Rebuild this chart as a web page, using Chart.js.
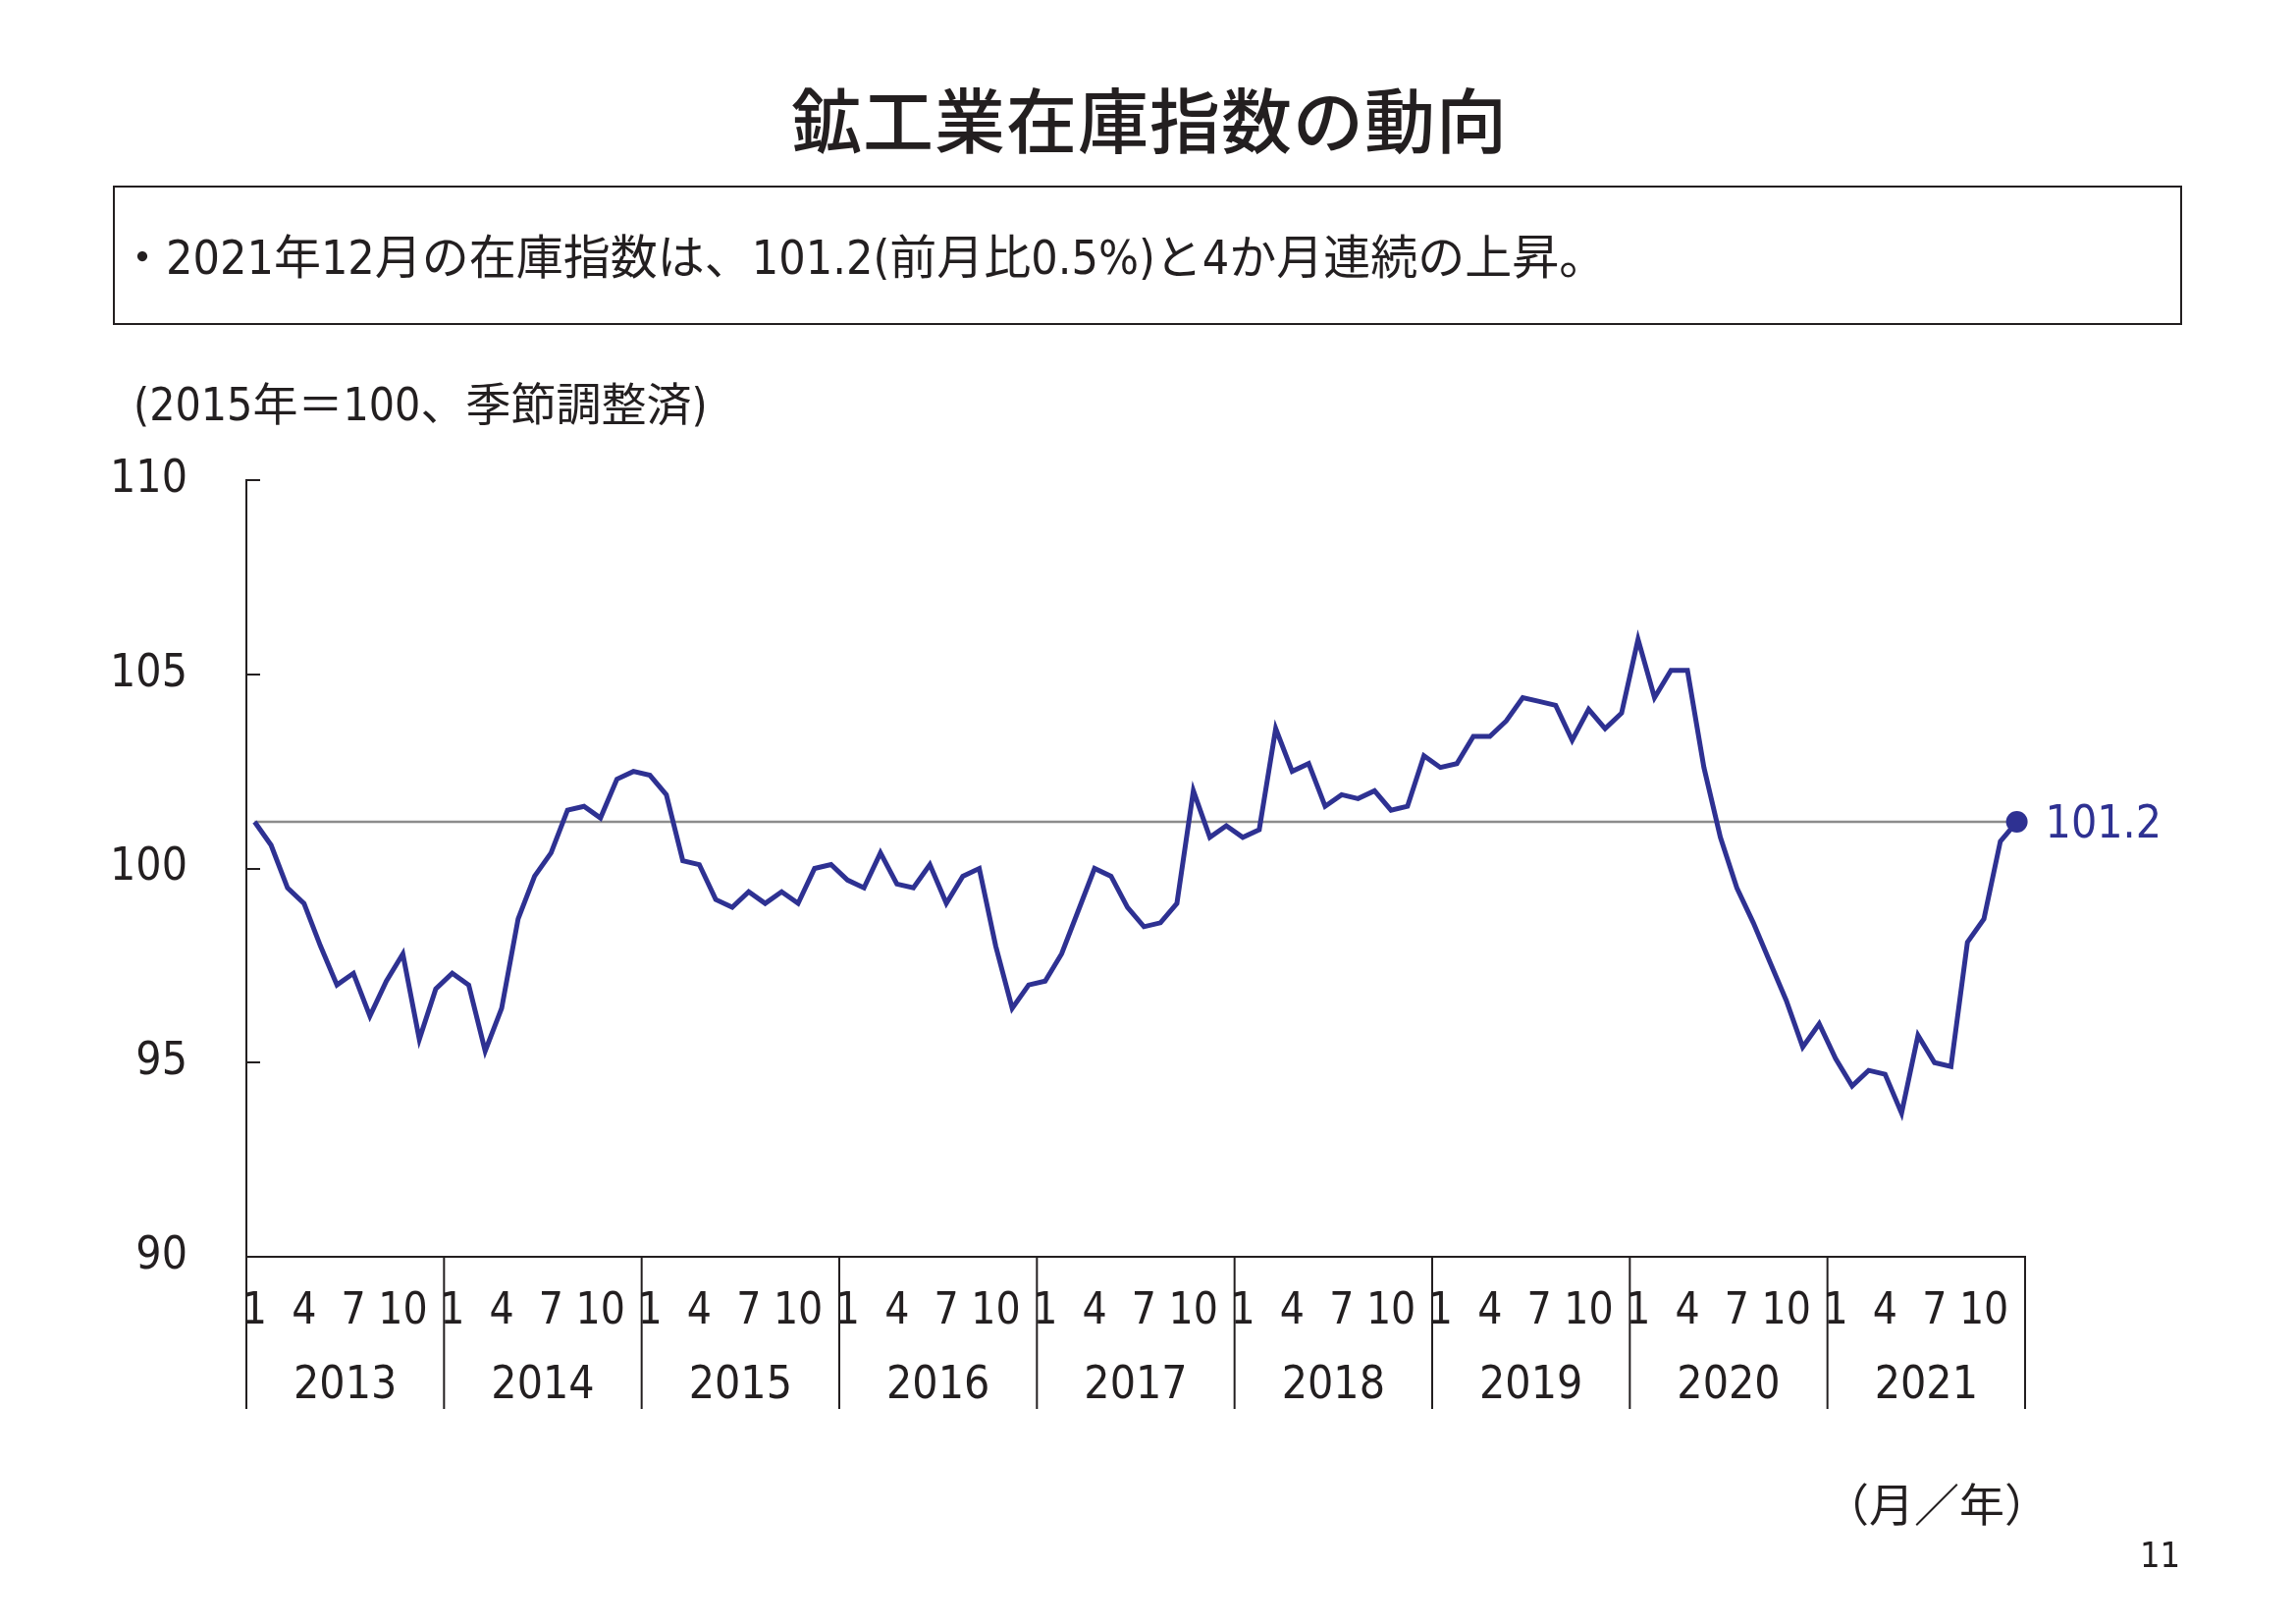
<!DOCTYPE html>
<html lang="ja">
<head>
<meta charset="utf-8">
<script src="https://cdn.jsdelivr.net/npm/chart.js@4.4.1/dist/chart.umd.min.js"></script>
<style>
html,body{margin:0;padding:0;background:#fff;}
#wrap{position:relative;width:2339px;height:1654px;overflow:hidden;background:#fff;}
#c{position:absolute;left:0;top:0;}
.t{position:absolute;white-space:nowrap;color:#231f20;line-height:1;
   font-family:"Liberation Sans Narrow","DejaVu Sans Condensed","Noto Sans CJK JP",sans-serif;}
#title{left:0;width:2342px;top:83px;text-align:center;font-size:72px;font-weight:500;
   font-family:"Noto Sans CJK JP",sans-serif;letter-spacing:1px;}
#box{position:absolute;left:115px;top:189px;width:2108px;height:142px;box-sizing:border-box;border:2.5px solid #231f20;}
#boxtext{left:121px;top:238px;font-size:48px;}
#unit{left:136px;top:389px;font-size:46px;}
#xunit{left:1858px;top:1506px;font-size:46px;font-family:"Noto Sans CJK JP",sans-serif;}
#page{left:2180px;top:1566px;font-size:36px;}
</style>
</head>
<body>
<div id="wrap">
<canvas id="c" width="2339" height="1654"></canvas>
<div class="t" id="title">鉱工業在庫指数の動向</div>
<div id="box"></div>
<div class="t" id="boxtext">・2021年12月の在庫指数は、101.2(前月比0.5%)と4か月連続の上昇。</div>
<div class="t" id="unit">(2015年＝100、季節調整済)</div>
<div class="t" id="xunit">（月／年）</div>
<div class="t" id="page">11</div>
</div>
<script>
const years = ['2013','2014','2015','2016','2017','2018','2019','2020','2021'];
const monthLabels = ['1','','','4','','','7','','','10','',''];
const yTicks = [90, 95, 100, 105, 110];
const inventoryIndex = [
  101.2, 100.6, 99.5, 99.1, 98.0, 97.0, 97.3, 96.2, 97.1, 97.8, 95.6, 96.9,
  97.3, 97.0, 95.3, 96.4, 98.7, 99.8, 100.4, 101.5, 101.6, 101.3, 102.3, 102.5,
  102.4, 101.9, 100.2, 100.1, 99.2, 99.0, 99.4, 99.1, 99.4, 99.1, 100.0, 100.1,
  99.7, 99.5, 100.4, 99.6, 99.5, 100.1, 99.1, 99.8, 100.0, 98.0, 96.4, 97.0,
  97.1, 97.8, 98.9, 100.0, 99.8, 99.0, 98.5, 98.6, 99.1, 102.0, 100.8, 101.1,
  100.8, 101.0, 103.6, 102.5, 102.7, 101.6, 101.9, 101.8, 102.0, 101.5, 101.6, 102.9,
  102.6, 102.7, 103.4, 103.4, 103.8, 104.4, 104.3, 104.2, 103.3, 104.1, 103.6, 104.0,
  105.9, 104.4, 105.1, 105.1, 102.6, 100.8, 99.5, 98.6, 97.6, 96.6, 95.4, 96.0,
  95.1, 94.4, 94.8, 94.7, 93.7, 95.7, 95.0, 94.9, 98.1, 98.7, 100.7, 101.2
];

const categories = [];
years.forEach(y => monthLabels.forEach((m, i) => categories.push(y + '/' + (i + 1))));

const BLUE = '#2e3192';
const AXIS = '#231f20';
const TEXT = '#231f20';
const FONT = '"Liberation Sans Narrow","DejaVu Sans Condensed","Noto Sans CJK JP",sans-serif';
const lastIdx = inventoryIndex.length - 1;

const overlay = {
  id: 'overlay',
  beforeDatasetsDraw(chart) {
    const {ctx, scales: {x, y}} = chart;
    const yy = y.getPixelForValue(inventoryIndex[lastIdx]);
    ctx.save();
    ctx.strokeStyle = '#8c8c8c';
    ctx.lineWidth = 2.5;
    ctx.beginPath();
    ctx.moveTo(x.getPixelForValue(0), yy);
    ctx.lineTo(x.getPixelForValue(lastIdx), yy);
    ctx.stroke();
    ctx.restore();
  },
  afterDraw(chart) {
    const {ctx, chartArea: a, scales: {x, y}} = chart;
    ctx.save();
    ctx.strokeStyle = AXIS;
    ctx.lineWidth = 2;
    yTicks.forEach(v => {
      if (v === y.min) return;
      const py = Math.round(y.getPixelForValue(v));
      ctx.beginPath();
      ctx.moveTo(a.left, py);
      ctx.lineTo(a.left + 14, py);
      ctx.stroke();
    });
    for (let k = 0; k <= years.length; k++) {
      let px;
      if (k === 0) px = a.left;
      else if (k === years.length) px = a.right;
      else px = (x.getPixelForValue(12 * k - 1) + x.getPixelForValue(12 * k)) / 2;
      ctx.beginPath();
      ctx.moveTo(px, a.bottom);
      ctx.lineTo(px, a.bottom + 155);
      ctx.stroke();
    }
    const lx = x.getPixelForValue(lastIdx);
    const ly = y.getPixelForValue(inventoryIndex[lastIdx]);
    ctx.fillStyle = BLUE;
    ctx.font = '46px ' + FONT;
    ctx.textAlign = 'left';
    ctx.textBaseline = 'middle';
    ctx.fillText(inventoryIndex[lastIdx].toFixed(1), lx + 29, ly + 4);
    ctx.restore();
  }
};

new Chart(document.getElementById('c').getContext('2d'), {
  type: 'line',
  data: {
    labels: categories,
    datasets: [{
      data: inventoryIndex,
      borderColor: BLUE,
      borderWidth: 5,
      tension: 0,
      clip: false,
      pointRadius: c => c.dataIndex === lastIdx ? 11 : 0,
      pointHoverRadius: 0,
      pointBackgroundColor: BLUE,
      pointBorderColor: BLUE,
      pointBorderWidth: 0
    }]
  },
  options: {
    responsive: false,
    animation: false,
    devicePixelRatio: 1,
    layout: {padding: {left: 0, top: 489, right: 276, bottom: 214}},
    plugins: {legend: {display: false}, tooltip: {enabled: false}},
    scales: {
      x: {
        type: 'category', offset: true, weight: 0,
        grid: {display: false, drawTicks: false},
        border: {display: true, color: AXIS, width: 2},
        ticks: {autoSkip: false, maxRotation: 0, minRotation: 0, padding: 30, color: TEXT,
          font: {family: FONT, size: 44},
          callback: (v, i) => monthLabels[i % 12]},
        afterFit: s => { s.height = 90; }
      },
      x2: {
        type: 'category', labels: years, offset: true, position: 'bottom', weight: 1,
        grid: {display: false, drawTicks: false},
        border: {display: false},
        ticks: {autoSkip: false, maxRotation: 0, minRotation: 0, padding: 14, color: TEXT,
          font: {family: FONT, size: 46}},
        afterFit: s => { s.height = 70; }
      },
      y: {
        min: 90, max: 110,
        grid: {display: false, drawTicks: false},
        border: {display: true, color: AXIS, width: 2},
        ticks: {stepSize: 5, padding: 60, color: TEXT, font: {family: FONT, size: 46}},
        afterFit: s => { s.width = 251; }
      }
    }
  },
  plugins: [overlay]
});
</script>
</body>
</html>
